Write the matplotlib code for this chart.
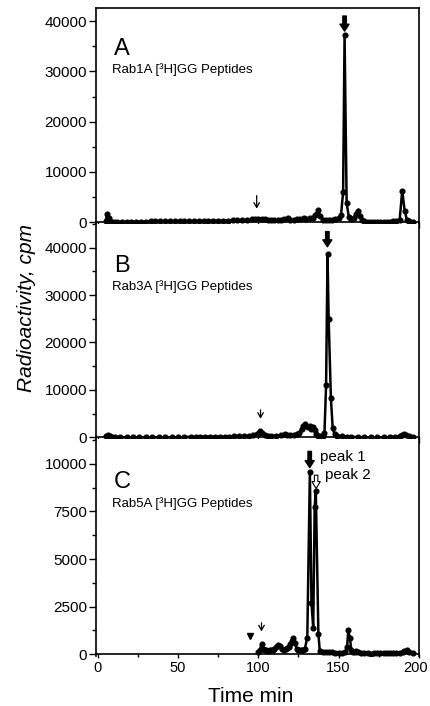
import matplotlib
matplotlib.use('Agg')
import matplotlib.pyplot as plt
from matplotlib.ticker import MultipleLocator, FixedLocator
from matplotlib.transforms import ScaledTranslation

plt.rcParams['font.family'] = ['Liberation Sans', 'DejaVu Sans']
plt.rcParams['axes.linewidth'] = 1.2

# Panel A - Rab1A
time_a = [5, 6, 7, 8, 10, 12, 15, 18, 21, 24, 27, 30, 33, 36, 39, 42, 45, 48, 51, 54,
          57, 60, 63, 66, 69, 72, 75, 78, 81, 84, 87, 90, 93, 96, 98, 100, 102, 104, 106, 108,
          110, 112, 114, 116, 118.6, 120, 122, 124, 126, 128.3, 130, 132, 134, 135.5, 137.4, 138.5, 140, 142, 144, 146,
          148, 150, 151.5, 152.8, 153.7, 155, 156.4, 158, 159.5, 160.8, 162.2, 163.3, 164.5, 166, 168, 170, 172, 174, 176, 178,
          180, 182, 184, 186, 188, 189.6, 191.1, 192.5, 194, 196]
cpm_a = [300, 1700, 900, 300, 150, 100, 100, 100, 120, 100, 150, 150, 200, 200, 180, 200, 250, 200, 200, 200,
         220, 250, 250, 250, 300, 350, 300, 350, 350, 400, 400, 450, 500, 600, 700, 750, 700, 600, 550, 500,
         500, 450, 500, 600, 900, 500, 550, 600, 700, 900, 600, 800, 900, 1500, 2500, 1200, 500, 400, 400, 500,
         600, 800, 1500, 6000, 37200, 3800, 1000, 700, 900, 1600, 2300, 1200, 500, 200, 100, 0, 0, 50, 100, 100,
         150, 150, 200, 200, 500, 6300, 2300, 500, 250, 100]

# Panel B - Rab3A
time_b = [5, 6.3, 7.5, 9, 11, 14, 18, 22, 26, 30, 34, 38, 42, 46, 50, 54, 58, 61, 64, 67,
          70, 73, 76, 79, 82, 85, 88, 91, 94, 97, 99, 100.2, 101.3, 102.5, 104, 106, 108, 111, 114, 116.5,
          118, 120, 122, 124, 125.5, 127, 128, 129, 130, 131, 132, 133, 134, 135, 136.2, 137.3, 138.5, 140, 141.2, 142.2,
          143.1, 143.8, 145.2, 146.3, 147.5, 149, 152, 155, 158, 162, 166, 170, 174, 178, 182, 185, 188, 189.5, 190.8, 192,
          194, 196]
cpm_b = [200, 500, 200, 100, 50, 0, 0, 0, 0, 0, 0, 0, 0, 0, 0, 50, 100, 100, 100, 150,
         100, 100, 150, 100, 150, 200, 200, 250, 300, 400, 600, 1000, 1400, 900, 500, 300, 300, 350, 400, 700,
         500, 400, 500, 600, 900, 1800, 2400, 2700, 2400, 2200, 2300, 1800, 2100, 1600, 600, 200, 200, 300, 1000, 11000,
         38700, 25000, 8200, 2000, 600, 300, 200, 100, 100, 50, 0, 0, 0, 0, 50, 100, 200, 400, 700, 500,
         200, 100]

# Panel C - Rab5A
time_c = [100, 101, 102, 103, 104, 105, 106, 107, 108, 109, 110, 111, 112, 113.4, 114.5, 116, 117, 118, 119, 120,
          121, 121.7, 122.7, 123.8, 125, 126, 127, 128, 129, 130.5, 132.1, 133.1, 134.2, 135.1, 135.8, 137.4, 138.3, 140, 142, 144,
          146, 148, 150, 152, 154, 155.3, 156, 157, 158, 159, 160, 161, 162, 164, 166, 168, 170, 172, 174, 176,
          178, 180, 182, 184, 186, 188, 190, 191, 192.7, 194, 196]
cpm_c = [100, 200, 550, 300, 200, 200, 150, 200, 200, 250, 300, 400, 480, 450, 300, 250, 300, 350, 400, 550,
         700, 830, 600, 300, 250, 200, 250, 250, 300, 880, 9550, 2700, 1380, 7750, 8550, 1080, 150, 100, 100, 100,
         100, 80, 80, 60, 100, 400, 1250, 850, 200, 100, 100, 150, 100, 80, 50, 50, 40, 60, 50, 60,
         50, 60, 50, 60, 70, 80, 100, 150, 220, 120, 50]

panel_letters = ['A', 'B', 'C']
panel_titles = ['Rab1A [³H]GG Peptides', 'Rab3A [³H]GG Peptides', 'Rab5A [³H]GG Peptides']
y_tops = [42600, 45000, 11300]
y_majors = [10000, 10000, 2500]

fig = plt.figure(figsize=(4.3, 7.06), dpi=100)
left, width = 0.2233, 0.751
bottoms = [0.6827, 0.3782, 0.0708]
heights = [0.9887 - 0.6827, 0.6827 - 0.3782, 0.3782 - 0.0708]

axes = []
datasets = [(time_a, cpm_a), (time_b, cpm_b), (time_c, cpm_c)]
for i, (t, v) in enumerate(datasets):
    ax = fig.add_axes([left, bottoms[i], width, heights[i]])
    ax.plot(t, v, color='black', lw=1.8, marker='o', ms=3.4, mfc='black', mec='black',
            solid_joinstyle='miter')
    ax.set_xlim(-1, 200)
    ax.yaxis.set_major_locator(MultipleLocator(y_majors[i]))
    ax.yaxis.set_minor_locator(MultipleLocator(y_majors[i] / 2))
    ax.set_ylim(-0.008 * y_tops[i], y_tops[i])
    ax.tick_params(axis='y', which='major', direction='out', length=5, width=1, labelsize=11, pad=1.5)
    ax.tick_params(axis='y', which='minor', direction='out', length=3, width=1)
    ax.spines['bottom'].set_position(('data', 0))
    if i < 2:
        ax.xaxis.set_major_locator(FixedLocator([0, 100, 200]))
        ax.tick_params(axis='x', which='major', direction='out', length=4.5, width=1, labelbottom=False)
    else:
        ax.xaxis.set_major_locator(MultipleLocator(50))
        ax.xaxis.set_minor_locator(MultipleLocator(25))
        ax.tick_params(axis='x', which='major', direction='out', length=3, width=1, labelsize=10.5, pad=2)
        ax.tick_params(axis='x', which='minor', direction='out', length=2, width=1)
    if i > 0:
        ax.spines['top'].set_visible(False)
    ax.text(0.055, [0.782, 0.778, 0.774][i], panel_letters[i], transform=ax.transAxes,
            fontsize=17, va='baseline', ha='left')
    ax.text(0.05, [0.699, 0.693, 0.685][i], panel_titles[i], transform=ax.transAxes,
            fontsize=9.5, va='baseline', ha='left')
    axes.append(ax)

ax_a, ax_b, ax_c = axes

# keep the "200" label inside the figure edge
fig.canvas.draw()
last = [lab for lab in ax_c.get_xticklabels() if lab.get_text() == '200']
for lab in last:
    lab.set_transform(lab.get_transform() + ScaledTranslation(-2.5 / 72, 0, fig.dpi_scale_trans))

bold = dict(arrowstyle='simple,head_length=0.5,head_width=0.65,tail_width=0.25', color='black',
            shrinkA=0, shrinkB=0)
thin = dict(arrowstyle='->,head_length=0.35,head_width=0.2', color='black', lw=0.9, shrinkA=0, shrinkB=0)
hollow = dict(arrowstyle='simple,head_length=0.5,head_width=0.6,tail_width=0.25', fc='white', ec='black',
              lw=0.8, shrinkA=0, shrinkB=0)

# Panel A arrows
ax_a.annotate('', xy=(99, 2700), xytext=(99, 5300), arrowprops=thin)
ax_a.annotate('', xy=(153.7, 38000), xytext=(153.7, 41000), arrowprops=bold)

# Panel B arrows
ax_b.annotate('', xy=(101.4, 3900), xytext=(101.4, 5800), arrowprops=thin)
ax_b.annotate('', xy=(143, 40200), xytext=(143, 43400), arrowprops=bold)

# Panel C arrows and labels
ax_c.annotate('', xy=(132, 9800), xytext=(132, 10650), arrowprops=bold)
ax_c.annotate('', xy=(136, 8700), xytext=(136, 9400), arrowprops=hollow)
ax_c.annotate('', xy=(102, 1200), xytext=(102, 1650), arrowprops=thin)
ax_c.plot([94.7], [950], marker='v', color='black', ms=4.5)
ax_c.text(138.3, 10380, 'peak 1', fontsize=11, va='center', ha='left')
ax_c.text(141.4, 9430, 'peak 2', fontsize=11, va='center', ha='left')

fig.text(27 / 430, 1 - 308 / 706, 'Radioactivity, cpm', rotation=90, fontsize=15,
         style='italic', ha='center', va='center')
fig.text(251 / 430, 1 - 702 / 706, 'Time min', fontsize=15, ha='center', va='baseline')

fig.savefig('out.png', dpi=100, facecolor='white')
